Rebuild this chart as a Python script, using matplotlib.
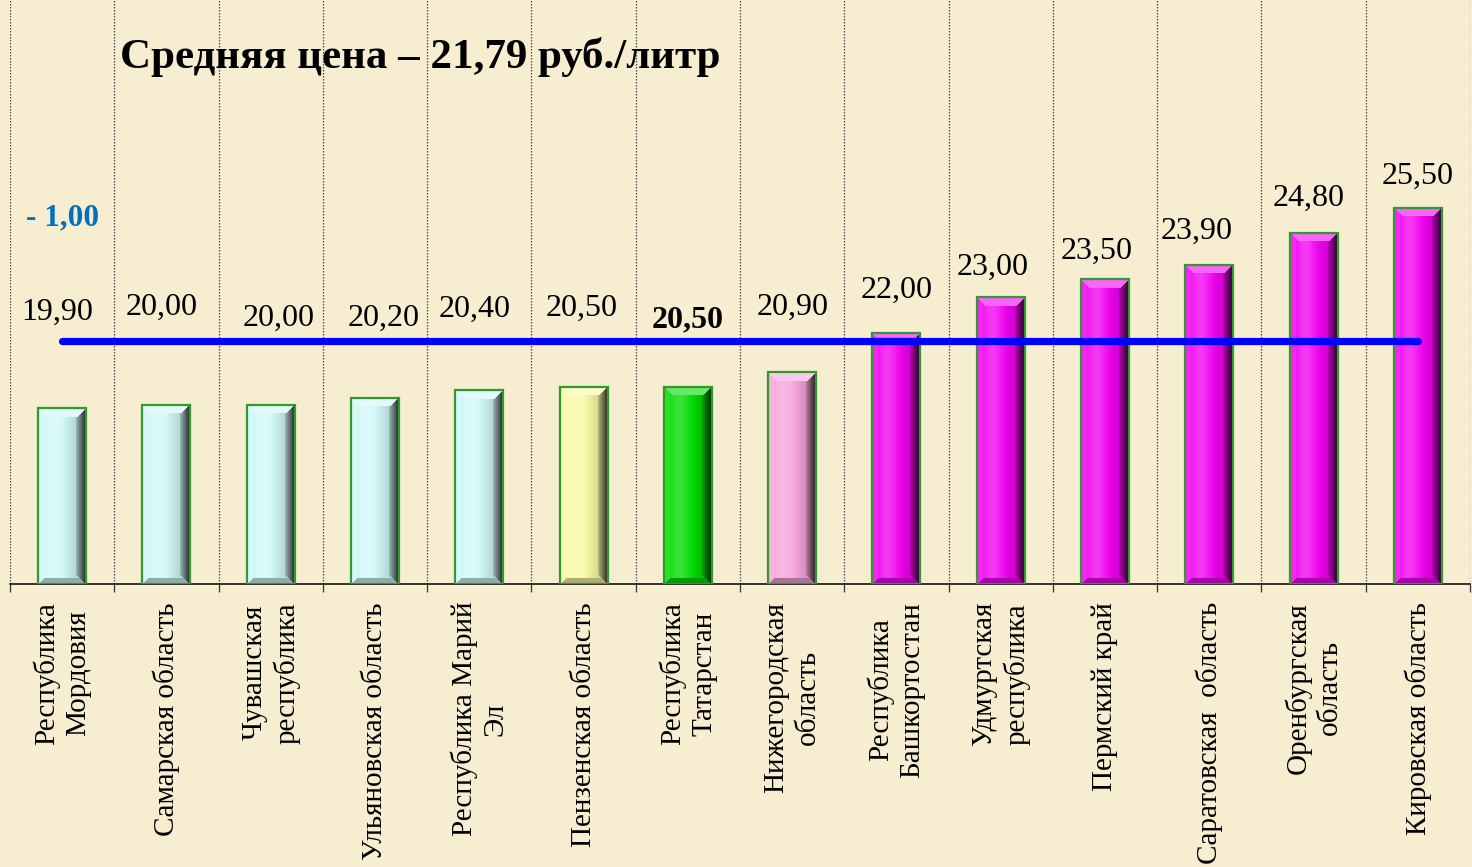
import numpy as np
import matplotlib
matplotlib.use("Agg")
import matplotlib.pyplot as plt
from matplotlib.patches import Rectangle
from matplotlib import transforms, colors as mcolors

# ---------------- data ----------------
regions = ["Республика\nМордовия", "Самарская область", "Чувашская\nреспублика",
           "Ульяновская область", "Республика Марий\nЭл", "Пензенская область",
           "Республика\nТатарстан", "Нижегородская\nобласть", "Республика\nБашкортостан",
           "Удмуртская\nреспублика", "Пермский край", "Саратовская  область",
           "Оренбургская\nобласть", "Кировская область"]
prices = [19.90, 20.00, 20.00, 20.20, 20.40, 20.50, 20.50, 20.90,
          22.00, 23.00, 23.50, 23.90, 24.80, 25.50]
price_labels = ["19,90", "20,00", "20,00", "20,20", "20,40", "20,50", "20,50", "20,90",
                "22,00", "23,00", "23,50", "23,90", "24,80", "25,50"]
average_price = 21.79
title_text = "Средняя цена – 21,79 руб./литр"
diff_text = "- 1,00"

# ---------------- layout / style ----------------
bar_colors = ["#CFF8F6", "#CFF8F6", "#CFF8F6", "#CFF8F6", "#CFF8F6", "#FAFAA6",
              "#00DC00", "#F7A4DC", "#F200F2", "#F200F2", "#F200F2", "#F200F2",
              "#F200F2", "#F200F2"]
label_dx = [-0.05, -0.05, 0.08, 0.08, -0.04, -0.02, 0.0, 0.0, 0.0, -0.08, -0.08, -0.12, -0.05, 0.0]
label_y = [22.59, 22.73, 22.42, 22.42, 22.65, 22.70, 22.37, 22.73,
           23.18, 23.82, 24.29, 24.85, 25.77, 26.38]
bold_label = [False] * 6 + [True] + [False] * 7

W_PX, H_PX = 1472, 867
BG = "#F7EDD1"
YMIN, YMAX = 15.0, 31.29
BAR_W = 0.46
SERIF = ["Liberation Serif", "DejaVu Serif"]

fig = plt.figure(figsize=(W_PX / 100, H_PX / 100), dpi=100)
fig.patch.set_facecolor(BG)
ax = fig.add_axes([10 / W_PX, (H_PX - 584) / H_PX, 1460 / W_PX, 584 / H_PX])
ax.set_facecolor("none")
n = len(prices)
ax.set_xlim(-0.5, n - 0.5)
ax.set_ylim(YMIN, YMAX)

# grid / separators
bounds = np.arange(-0.5, n, 1.0)
ax.set_xticks(bounds)
ax.set_xticklabels([])
ax.set_yticks([])
ax.tick_params(axis="x", length=6, width=0.9, color="#333333", direction="out")
ax.vlines(bounds, YMIN, YMAX, colors="#4A4A4A", linestyles=(0, (1.2, 1.2)), linewidth=0.9, zorder=1)
for s in ["left", "right", "top"]:
    ax.spines[s].set_visible(False)
ax.spines["bottom"].set_color("black")
ax.spines["bottom"].set_linewidth(1.1)

px_per_x = 1460 / n
px_per_y = 584 / (YMAX - YMIN)


def bar_image(color, wpx, hpx):
    W = max(int(round(wpx)), 2)
    H = max(int(round(hpx)), 2)
    base = np.array(mcolors.to_rgb(color))
    U, V = np.meshgrid(np.arange(W) + 0.5, np.arange(H) + 0.5)
    t = U / W
    shade = 1.0 - 0.22 * np.clip((t - 0.5) / 0.5, 0, 1)
    hl = 0.22 * np.exp(-((t - 0.32) / 0.2) ** 2)
    img = base[None, None, :] * shade[..., None]
    img = img + (1 - img) * hl[..., None]
    dl, dr, dt, db = U, W - U, V, H - V
    m = np.minimum(np.minimum(dl, dr), np.minimum(dt, db))
    bev = 9
    top = (dt <= m) & (dt < bev)
    left = (dl <= m) & (dl < 6) & ~top
    right = (dr <= m) & (dr < 10) & ~top
    bot = (db <= m) & (db < 6) & ~left & ~right
    white = np.ones(3)
    img[top] = base * 0.6 + white * 0.4
    img[left] = base * 0.85 + white * 0.15
    rf = (dr / 10.0)[right][:, None]
    img[right] = base * (0.15 + 0.6 * rf)
    img[bot] = base * 0.7
    return np.clip(img, 0, 1)


for i, (v, c) in enumerate(zip(prices, bar_colors)):
    x0, x1 = i - BAR_W / 2, i + BAR_W / 2
    img = bar_image(c, BAR_W * px_per_x, (v - YMIN) * px_per_y)
    ax.imshow(img, extent=(x0, x1, YMIN, v), origin="upper", aspect="auto",
              interpolation="bilinear", zorder=3)
    ax.add_patch(Rectangle((x0, YMIN), BAR_W, v - YMIN, fill=False,
                           edgecolor="#2F9A2F", linewidth=1.6, zorder=4))

ax.set_xlim(-0.5, n - 0.5)
ax.set_ylim(YMIN, YMAX)

# average line
ax.plot([0, n - 1], [average_price, average_price], color="#0000FF", linewidth=5.2,
        solid_capstyle="round", zorder=5)

# value labels
for i, (lab, y) in enumerate(zip(price_labels, label_y)):
    ax.text(i + label_dx[i], y, lab, ha="center", va="center", fontsize=23,
            family=SERIF, fontweight="bold" if bold_label[i] else "normal",
            color="black", zorder=6)

# category labels
trans = transforms.blended_transform_factory(ax.transData, ax.transAxes)
for i, r in enumerate(regions):
    ax.text(i, -18 / 584, r, rotation=90, ha="center", va="top", multialignment="center",
            fontsize=21, family=SERIF, color="black", transform=trans, linespacing=1.25)

# title and difference
fig.text(120 / W_PX, 1 - 68 / H_PX, title_text, ha="left", va="baseline", fontsize=31,
         fontweight="bold", family=SERIF, color="black")
fig.text(26 / W_PX, 1 - 218 / H_PX, diff_text, ha="left", va="center", fontsize=22.5,
         fontweight="bold", family=SERIF, color="#0070C0")

fig.savefig("out.png", dpi=100, facecolor=BG)
